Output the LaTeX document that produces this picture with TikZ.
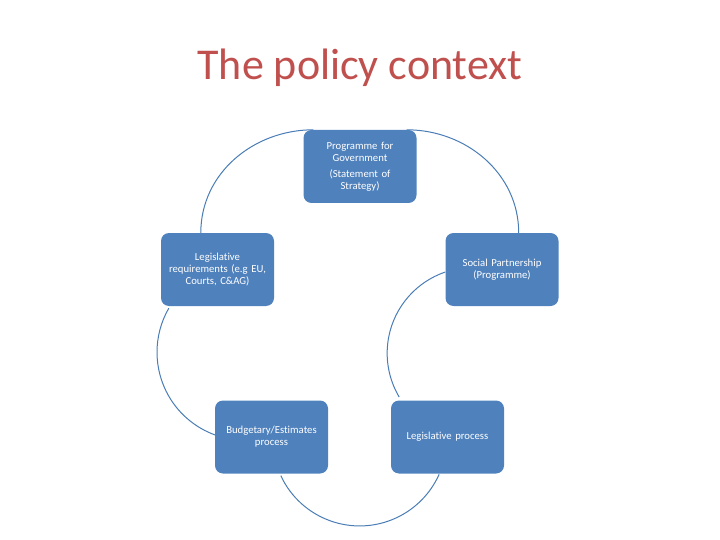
\documentclass[tikz,border=0pt]{standalone}
\usepackage{fontspec}
\setmainfont[Ligatures=NoCommon]{Carlito}
\usetikzlibrary{backgrounds}
\definecolor{boxblue}{HTML}{4F81BD}
\definecolor{arcblue}{HTML}{4A7DB5}
\definecolor{titlered}{HTML}{C0504D}
\tikzset{
  cyclebox/.style={fill=boxblue, draw=none, rounded corners=8pt,
    minimum width=113pt, minimum height=73pt, text=white,
    text width=105pt, align=center, inner sep=0pt,
    font=\fontsize{10.7}{12}\selectfont},
  cyclearc/.style={draw=arcblue, line width=1pt},
}
\begin{document}
\begin{tikzpicture}[x=1pt,y=1pt]
\useasboundingbox (0,0) rectangle (720,-540);
\node[text=titlered, font=\fontsize{44}{50}\selectfont, anchor=base] (title) at (360,-80) {The policy context};
\node[cyclebox] (top) at (360,-166.5) {Programme for\\Government\\[4pt](Statement of\\Strategy)};
\node[cyclebox] (left) at (217.5,-269.5) {Legislative\\requirements (e.g EU,\\Courts, C\&AG)};
\node[cyclebox] (right) at (502,-269.5) {Social Partnership\\(Programme)};
\node[cyclebox] (bl) at (271.5,-437) {Budgetary/Estimates\\process};
\node[cyclebox] (br) at (447.5,-437) {Legislative process};
\begin{scope}[on background layer]
\draw[cyclearc] ([xshift=10pt]top.north west) to[out=180,in=90] ([xshift=40pt]left.north west);
\draw[cyclearc] ([xshift=-10pt]top.north east) to[out=0,in=90] ([xshift=-40pt]right.north east);
\draw[cyclearc] ([xshift=8pt,yshift=-2pt]left.south west) arc[start angle=150, end angle=250, radius=88pt];
\draw[cyclearc] ([yshift=-2.5pt]right.west) arc[start angle=108.8, end angle=210.7, radius=85.8pt];
\draw[cyclearc] ([xshift=66pt,yshift=-2pt]bl.south west) arc[start angle=205, end angle=336, radius=87pt];
\end{scope}
\end{tikzpicture}
\end{document}
